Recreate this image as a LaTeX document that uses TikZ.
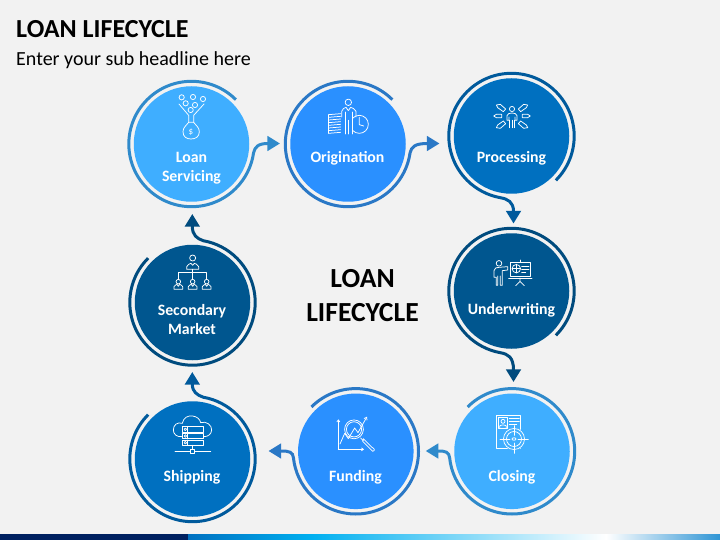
\documentclass[tikz,border=0pt]{standalone}
\usepackage{fontspec}
\setmainfont{Carlito}
\usetikzlibrary{arrows.meta}
\definecolor{bgc}{HTML}{F2F2F2}
\definecolor{dA}{HTML}{3FAEFF}\definecolor{rA}{HTML}{2F8ACB}
\definecolor{dB}{HTML}{2A90FF}\definecolor{rB}{HTML}{2A78C6}
\definecolor{dC}{HTML}{0070C0}\definecolor{rC}{HTML}{005A9C}
\definecolor{dD}{HTML}{00568F}\definecolor{rD}{HTML}{004B7E}
\definecolor{navybar}{HTML}{002060}\definecolor{blueA}{HTML}{0070C0}\definecolor{blueB}{HTML}{00B0F0}\definecolor{blueC}{HTML}{2F95D5}
\tikzset{
 disc/.style={circle,minimum size=115.5pt,inner sep=0pt,fill=#1},
 ring/.style={draw=#1,line width=3pt,line cap=butt,-{Triangle[length=12.7pt,width=14.6pt]}},
 lab/.style={text=white,font=\fontsize{15.8}{19}\selectfont\bfseries,align=center,inner sep=0pt},
 ttl/.style={text=black,font=\fontsize{27.6}{34}\selectfont\bfseries,align=center,inner sep=0pt},
 ic/.style={draw=white,line width=0.75pt,line join=round,line cap=round},
 crop/.style={shift={(#1)},x=.33333pt,y=-.33333pt}
}
\newcommand{\smallp}[2]{%
 \draw[ic] (#1,#2-10) circle[radius=2.3pt];
 \draw[ic] (#1-13,#2+13) -- (#1-13,#2+5) .. controls (#1-12,#2) and (#1-6,#2) .. (#1-4,#2-2) -- (#1,#2+4) -- (#1+4,#2-2) .. controls (#1+6,#2) and (#1+12,#2) .. (#1+13,#2+5) -- (#1+13,#2+13) -- cycle;
}
\begin{document}
\begin{tikzpicture}[x=1pt,y=-1pt]
\useasboundingbox (0,0) rectangle (720,540);
\fill[bgc] (0,0) rectangle (720,540);
% bottom bar
\fill[navybar] (0,534) rectangle (188,540);
\fill[left color=blueA,right color=blueB] (188,534) rectangle (312,540);
\fill[left color=blueB,right color=white] (312,534) rectangle (606,540);
\fill[left color=white,right color=blueC] (606,534) rectangle (720,540);
% titles
\node[anchor=west,inner sep=0pt,font=\fontsize{26}{28}\selectfont\bfseries] (title) at (16,29) {LOAN LIFECYCLE};
\node[anchor=west,inner sep=0pt,font=\fontsize{20}{22}\selectfont] (sub) at (16,60) {Enter your sub headline here};
\node[ttl] (centre) at (362.5,296) {LOAN\\LIFECYCLE};
% discs
\node[disc=dA] (loan) at (191.5,144) {};
\node[disc=dB] (orig) at (348,144) {};
\node[disc=dC] (proc) at (511.5,136) {};
\node[disc=dD] (under) at (511.5,291) {};
\node[disc=dA] (clos) at (512,451.3) {};
\node[disc=dB] (fund) at (355.8,451.3) {};
\node[disc=dC] (ship) at (192.5,459) {};
\node[disc=dD] (sec) at (192.5,302.5) {};
% arrow tips
\coordinate (tipA) at (280,143.5);
\coordinate (tipB) at (439.5,143.5);
\coordinate (tipC) at (513.5,223.5);
\coordinate (tipD) at (513.5,382);
\coordinate (tipE) at (425.7,451);
\coordinate (tipF) at (268.5,451);
\coordinate (tipG) at (192.3,372);
\coordinate (tipH) at (192.3,214);
% rings with tails
\draw[ring=rA] (loan.center) ++(45:62.7pt) arc[start angle=45,end angle=352,radius=62.7pt] .. controls (255,147) and (258,143.5) .. (tipA);
\draw[ring=rB] (orig.center) ++(45:62.7pt) arc[start angle=45,end angle=352,radius=62.7pt] .. controls (411.5,147) and (414.5,143.5) .. (tipB);
\draw[ring=rC] (proc.center) ++(-45:62.7pt) arc[start angle=-45,delta angle=304.5,radius=62.7pt] .. controls (508,199) and (513.5,202) .. (tipC);
\draw[ring=rD] (under.center) ++(-45:62.7pt) arc[start angle=-45,delta angle=304.5,radius=62.7pt] .. controls (508,354) and (513.5,357) .. (tipD);
\draw[ring=rA] (clos.center) ++(135:62.7pt) arc[start angle=135,delta angle=-309,radius=62.7pt] .. controls (449,452) and (446,451) .. (tipE);
\draw[ring=rB] (fund.center) ++(135:62.7pt) arc[start angle=135,delta angle=-309,radius=62.7pt] .. controls (292.8,452) and (289.8,451) .. (tipF);
\draw[ring=rC] (ship.center) ++(135:62.7pt) arc[start angle=135,delta angle=305,radius=62.7pt] .. controls (197,395) and (192.3,392) .. (tipG);
\draw[ring=rD] (sec.center) ++(135:62.7pt) arc[start angle=135,delta angle=305,radius=62.7pt] .. controls (197,238.5) and (192.3,235.5) .. (tipH);
% labels
\node[lab] (l1) at (191.5,168) {Loan\\Servicing};
\node[lab] (l2) at (347.5,158.5) {Origination};
\node[lab] (l3) at (511.5,158.5) {Processing};
\node[lab] (l4) at (511.5,310.5) {Underwriting};
\node[lab] (l5) at (512,477.5) {Closing};
\node[lab] (l6) at (355.5,477.5) {Funding};
\node[lab] (l7) at (192,477.5) {Shipping};
\node[lab] (l8) at (192,320) {Secondary\\Market};
% icon: loan servicing
\begin{scope}[crop={165,90}]
\foreach \a/\b in {50/22,84/21,114/27,62/40,90/45,77/60} \draw[ic] (\a,\b) circle[radius=2.6pt];
\draw[ic] (42,42) -- (71,76) -- (71,97);
\draw[ic] (117,42) -- (86,76) -- (86,97);
\draw[ic] (71,97) -- (86,97) .. controls (92,106) and (103,112) .. (103,125) .. controls (103,140) and (92,147) .. (78,147) .. controls (64,147) and (54,140) .. (54,125) .. controls (54,112) and (65,106) .. (71,97);
\node[text=white,inner sep=0pt,font=\fontsize{9}{9}\selectfont] (dollar) at (78,125) {\$};
\end{scope}
% icon: origination
\begin{scope}[crop={320,92}]
\foreach \b in {68,76,84,92,100,108,116,124} \draw[ic] (26,\b) -- (62,\b-3);
\draw[ic] (26,68) -- (26,124);
\draw[ic] (118,97) circle[radius=9pt];
\draw[ic] (118,76) -- (118,98) -- (131,102);
\fill[dB] (66,50) rectangle (100,130);
\draw[ic] (85,31) circle[radius=3.2pt];
\draw[ic] (65,75) -- (65,58) .. controls (66,50) and (74,48) .. (78,46) -- (85,56) -- (92,46) .. controls (96,48) and (106,50) .. (108,58) -- (108,75);
\draw[ic] (75,60) -- (75,126) (85,85) -- (85,126) (96,60) -- (96,126);
\end{scope}
% icon: processing
\begin{scope}[crop={485,95}]
\draw[ic] (81,42) circle[radius=2.6pt];
\draw[ic] (66,76) -- (66,62) .. controls (67,56) and (74,54) .. (81,54) .. controls (88,54) and (95,56) .. (96,62) -- (96,76) -- (90,76) -- (90,66) (72,66) -- (72,76) -- (66,76);
\draw[ic] (74,76) -- (74,98) (81,76) -- (81,98) (88,76) -- (88,98);
\draw[ic] (26,63) -- (34,58) -- (50,58) -- (50,68) -- (34,68) -- cycle;
\draw[ic] (136,63) -- (128,58) -- (112,58) -- (112,68) -- (128,68) -- cycle;
\draw[ic] (34,30) -- (46,28) -- (62,42) -- (55,50) -- (38,38) -- cycle;
\draw[ic] (128,30) -- (116,28) -- (100,42) -- (107,50) -- (124,38) -- cycle;
\draw[ic] (34,98) -- (46,100) -- (62,86) -- (55,78) -- (38,90) -- cycle;
\draw[ic] (128,98) -- (116,100) -- (100,86) -- (107,78) -- (124,90) -- cycle;
\end{scope}
% icon: underwriting
\begin{scope}[crop={485,252}]
\draw[ic] (42,34) circle[radius=2.8pt];
\draw[ic] (27,76) -- (27,56) .. controls (28,48) and (34,46) .. (42,46) -- (68,44) -- (68,54) -- (52,56) -- (52,100) -- (46,100) -- (46,72) (38,72) -- (38,100) -- (34,100) -- (34,76) -- (27,76);
\draw[ic] (75,30) rectangle (137,74);
\draw[ic] (71,78) -- (141,78);
\draw[ic] (105,24) -- (105,30);
\draw[ic] (105,78) -- (105,90) (92,101) -- (105,88) -- (118,101);
\draw[ic] (94,50) circle[radius=4.2pt];
\draw[ic] (94,37) -- (94,63) (81,50) -- (107,50);
\draw[ic] (110,42) -- (132,42) (110,52) -- (132,52) (110,61) -- (122,61);
\end{scope}
% icon: closing
\begin{scope}[crop={485,408}]
\draw[ic] (35,22) rectangle (105,120);
\draw[ic] (40,28) rectangle (68,62);
\draw[ic] (54,40) circle[radius=2pt];
\draw[ic] (44,60) -- (44,54) .. controls (46,50) and (62,50) .. (64,54) -- (64,60);
\draw[ic] (73,32) -- (103,32) (73,41) -- (103,41) (73,50) -- (95,50);
\fill[dA] (87,93) circle[radius=11.5pt];
\draw[ic] (87,93) circle[radius=10.5pt];
\draw[ic] (87,93) circle[radius=7.5pt];
\draw[ic] (87,93) ellipse[x radius=2pt,y radius=1.2pt];
\draw[ic] (45,93) -- (75,93) (99,93) -- (130,93) (87,53) -- (87,82) (87,105) -- (87,136);
\end{scope}
% icon: funding
\begin{scope}[crop={330,410}]
\draw[ic,-{Straight Barb[length=2pt,width=3pt]}] (25,118) -- (25,28);
\draw[ic,-{Straight Barb[length=2pt,width=3pt]}] (25,118) -- (102,118);
\draw[ic] (72,58) circle[radius=9.4pt];
\draw[ic] (72,58) circle[radius=7.6pt];
\draw[ic,-{Straight Barb[length=2.5pt,width=3.5pt]}] (30,102) -- (44,70) -- (55,86) -- (74,54) -- (84,68) -- (111,20);
\draw[ic] (92,84) -- (100,92);
\draw[ic] (100,86) -- (126,112) .. controls (134,116) and (136,122) .. (128,124) -- (98,94) -- cycle;
\end{scope}
% icon: secondary market
\begin{scope}[crop={165,250}]
\draw[ic] (83,24) circle[radius=3pt];
\draw[ic] (65,58) -- (65,50) .. controls (67,42) and (76,42) .. (78,40) -- (83,46) -- (88,40) .. controls (90,42) and (99,42) .. (101,50) -- (101,58) -- cycle;
\draw[ic] (83,58) -- (83,66) (40,86) -- (40,66) -- (125,66) -- (125,86) (83,66) -- (83,86);
\smallp{40}{105}
\smallp{83}{105}
\smallp{125}{105}
\end{scope}
% icon: shipping
\begin{scope}[crop={120,210}]
\draw[ic] (187,680) .. controls (170,682) and (160,672) .. (160,660) .. controls (160,645) and (172,635) .. (187,640) .. controls (190,622) and (205,616) .. (218,618) .. controls (232,620) and (240,628) .. (242,638) .. controls (258,632) and (276,645) .. (275,660) .. controls (274,672) and (265,680) .. (252,680);
\foreach \b in {650,670,690} {
 \fill[dC] (187,\b) rectangle (250,\b+16);
 \draw[ic] (187,\b) rectangle (250,\b+16);
 \draw[ic] (196,\b+8) circle[radius=1.3pt];
 \draw[ic] (203,\b) -- (203,\b+16);
}
\draw[ic] (217,706) -- (217,718);
\draw[ic] (165,724) -- (211,724) (224,724) -- (272,724);
\draw[ic] (211,718) rectangle (224,730);
\end{scope}
\end{tikzpicture}
\end{document}
